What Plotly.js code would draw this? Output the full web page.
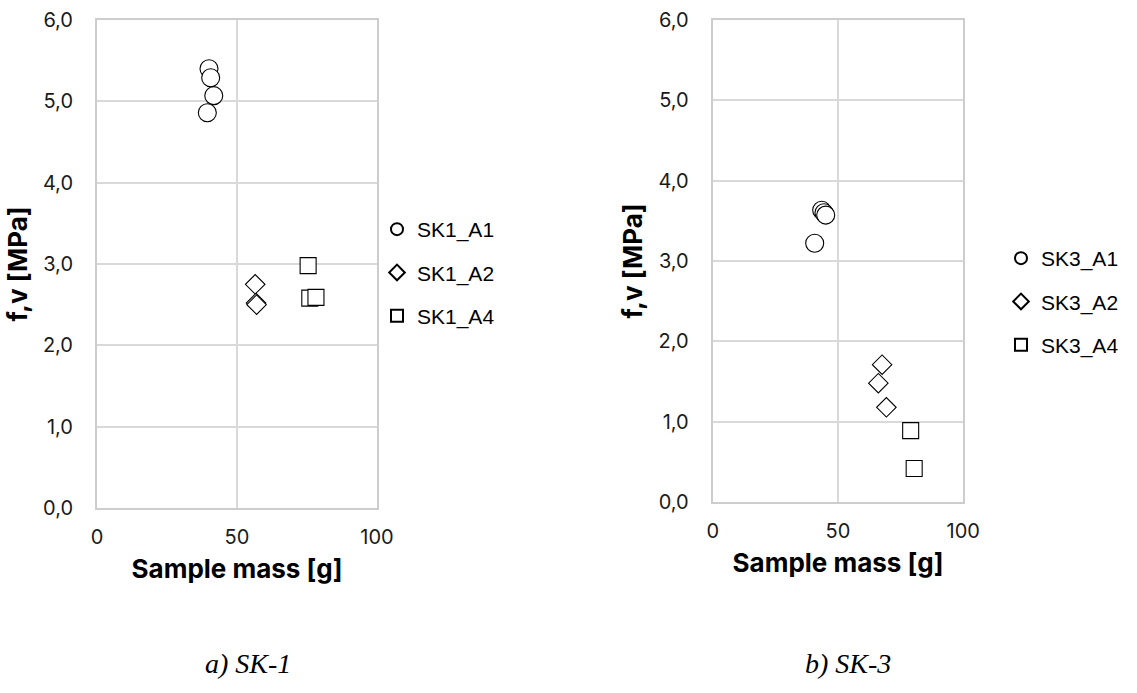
<!DOCTYPE html>
<html>
<head>
<meta charset="utf-8">
<script src="https://cdn.plot.ly/plotly-3.0.1.min.js"></script>
<style>
  html, body { margin: 0; padding: 0; background: #ffffff; }
  #chart { width: 1137px; height: 693px; }
</style>
</head>
<body>
<div id="chart"></div>
<script>
// Panel a) SK-1 : sample mass [g] vs f,v [MPa]
const sk1A1Mass = [40.0, 40.6, 41.7, 39.4];
const sk1A1Fv   = [5.40, 5.29, 5.07, 4.86];
const sk1A2Mass = [56.5, 56.8, 57.0];
const sk1A2Fv   = [2.75, 2.52, 2.50];
const sk1A4Mass = [75.4, 76.0, 78.2];
const sk1A4Fv   = [2.98, 2.58, 2.59];

// Panel b) SK-3
const sk3A1Mass = [43.5, 44.4, 45.1, 40.7];
const sk3A1Fv   = [3.63, 3.60, 3.57, 3.22];
const sk3A2Mass = [67.6, 66.1, 69.3];
const sk3A2Fv   = [1.71, 1.48, 1.18];
const sk3A4Mass = [79.0, 80.4];
const sk3A4Fv   = [0.89, 0.42];

const seriesNames1 = ['SK1_A1', 'SK1_A2', 'SK1_A4'];
const seriesNames3 = ['SK3_A1', 'SK3_A2', 'SK3_A4'];
const xTickVals = [0, 50, 100];
const yTickVals = [0, 1, 2, 3, 4, 5, 6];
const captions = ['a) SK-1', 'b) SK-3'];

const W = 1137, H = 693;
const px = v => v / W;
const py = v => 1 - v / H;

const tickFont = { family: 'Inter, Roboto, sans-serif', size: 20, color: '#1a1a1a' };
const titleFont = { family: 'Inter, Roboto, sans-serif', size: 26, color: '#000000', weight: 'bold' };
const legendFont = { family: 'Liberation Sans, Arial, sans-serif', size: 21, color: '#000000' };
const captionFont = { family: 'Liberation Serif, Times New Roman, serif', size: 28, style: 'italic', color: '#000000' };

const markerStyles = [
  { symbol: 'circle', size: 18 },
  { symbol: 'diamond', size: 15 },
  { symbol: 'square', size: 16 }
];

function scatter(x, y, name, idx, xa, ya, legendId) {
  const st = markerStyles[idx];
  return {
    type: 'scatter', mode: 'markers', x: x, y: y, name: name,
    xaxis: xa, yaxis: ya, legend: legendId, legendgroup: legendId + name,
    marker: { symbol: st.symbol, size: st.size, color: '#ffffff',
              line: { color: '#000000', width: 1.1 } },
    hoverinfo: 'x+y+name'
  };
}

const traces = [
  scatter(sk1A1Mass, sk1A1Fv, seriesNames1[0], 0, 'x', 'y', 'legend'),
  scatter(sk1A2Mass, sk1A2Fv, seriesNames1[1], 1, 'x', 'y', 'legend'),
  scatter(sk1A4Mass, sk1A4Fv, seriesNames1[2], 2, 'x', 'y', 'legend'),
  scatter(sk3A1Mass, sk3A1Fv, seriesNames3[0], 0, 'x2', 'y2', 'legend2'),
  scatter(sk3A2Mass, sk3A2Fv, seriesNames3[1], 1, 'x2', 'y2', 'legend2'),
  scatter(sk3A4Mass, sk3A4Fv, seriesNames3[2], 2, 'x2', 'y2', 'legend2')
];

function xAxis(domain, anchor) {
  return {
    domain: domain, anchor: anchor, range: [0, 100],
    tickmode: 'array', tickvals: xTickVals,
    showgrid: true, gridcolor: '#d9d9d9', gridwidth: 2,
    showline: true, mirror: true, linecolor: '#cdcdcd', linewidth: 2,
    zeroline: false, ticks: '', ticklabelstandoff: 10,
    tickfont: tickFont,
    title: { text: 'Sample mass [g]', font: titleFont, standoff: 12 },
    fixedrange: true
  };
}
function yAxis(domain, anchor) {
  return {
    domain: domain, anchor: anchor, range: [0, 6],
    tickmode: 'array', tickvals: yTickVals, tickformat: '.1f',
    showgrid: true, gridcolor: '#d9d9d9', gridwidth: 2,
    showline: true, mirror: true, linecolor: '#cdcdcd', linewidth: 2,
    zeroline: false, ticks: '', ticklabelstandoff: 18,
    tickfont: tickFont,
    title: { text: 'f,v [MPa]', font: titleFont, standoff: 8 },
    fixedrange: true
  };
}

function legendBox(xLeft, yTop) {
  return {
    x: px(xLeft), xanchor: 'left', y: py(yTop), yanchor: 'top',
    font: legendFont, bgcolor: 'rgba(0,0,0,0)', borderwidth: 0,
    itemsizing: 'constant', itemwidth: 30,
    traceorder: 'grouped', tracegroupgap: 13
  };
}

const layout = {
  width: W, height: H,
  margin: { l: 0, r: 0, t: 0, b: 0 },
  paper_bgcolor: '#ffffff', plot_bgcolor: '#ffffff',
  separators: ', ',
  showlegend: true,
  xaxis: xAxis([px(97), px(377)], 'y'),
  yaxis: yAxis([py(508), py(20)], 'x'),
  xaxis2: xAxis([px(712.7), px(963.3)], 'y2'),
  yaxis2: yAxis([py(502.2), py(19.7)], 'x2'),
  legend: legendBox(377, 209),
  legend2: legendBox(1001, 238),
  annotations: [
    { text: captions[0], xref: 'paper', yref: 'paper', x: px(248), y: py(663),
      xanchor: 'center', yanchor: 'middle', showarrow: false, font: captionFont },
    { text: captions[1], xref: 'paper', yref: 'paper', x: px(848), y: py(663),
      xanchor: 'center', yanchor: 'middle', showarrow: false, font: captionFont }
  ]
};

Plotly.newPlot('chart', traces, layout, { displayModeBar: false, staticPlot: true });
</script>
</body>
</html>
